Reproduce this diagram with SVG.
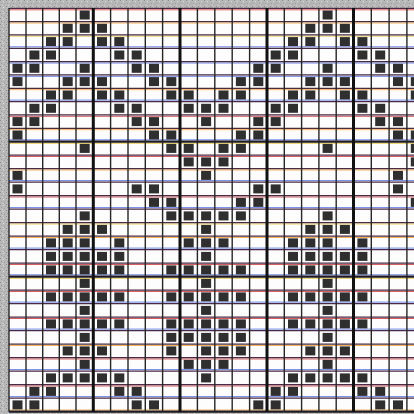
<svg xmlns="http://www.w3.org/2000/svg" xmlns:xlink="http://www.w3.org/1999/xlink" width="414" height="414" viewBox="0 0 414 414">
<style>
.v{stroke:#262626;stroke-width:1.4}
.vt{stroke:#111111;stroke-width:3}
.h{stroke:#4a2a44;stroke-width:1.2}
.ht{stroke:#1e1a22;stroke-width:2.4}
.fo{stroke:#f0a030;stroke-width:1;opacity:.8}
.fb{stroke:#4a6ae0;stroke-width:1;opacity:.8}
.fr{stroke:#d03838;stroke-width:1;opacity:.8}
.fy{stroke:#e8c840;stroke-width:1;opacity:.8}
.sq{fill:#2f2f2f}
</style>
<defs>
<pattern id="noise" width="6" height="6" patternUnits="userSpaceOnUse">
<rect width="6" height="6" fill="#b9b9b9"/>
<rect x="0" y="0" width="1" height="1" fill="#8e8e8e"/>
<rect x="3" y="1" width="1" height="1" fill="#d8d8d8"/>
<rect x="1" y="3" width="1" height="1" fill="#9a9a9a"/>
<rect x="4" y="4" width="1" height="1" fill="#a0a0a0"/>
<rect x="2" y="5" width="1" height="1" fill="#d0d0d0"/>
<rect x="5" y="2" width="1" height="1" fill="#a6a6a6"/>
</pattern>
<rect id="s" class="sq" width="10" height="9"/>
</defs>
<rect width="414" height="414" fill="url(#noise)"/>
<rect x="9" y="8" width="405" height="404" fill="#fdfdfd"/>

<g id="fringes">
<line class="fr" x1="9" y1="9.8" x2="414" y2="9.8"/>
<line class="fo" x1="9" y1="23" x2="414" y2="23"/>
<line class="fy" x1="9" y1="36.2" x2="414" y2="36.2"/>
<line class="fb" x1="9" y1="46.8" x2="414" y2="46.8"/>
<line class="fb" x1="9" y1="63" x2="414" y2="63"/>
<line class="fb" x1="9" y1="76.3" x2="414" y2="76.3"/>
<line class="fo" x1="9" y1="89.7" x2="414" y2="89.7"/>
<line class="fb" x1="9" y1="100.1" x2="414" y2="100.1"/>
<line class="fr" x1="9" y1="116.3" x2="414" y2="116.3"/>
<line class="fo" x1="9" y1="129.7" x2="414" y2="129.7"/>
<line class="fy" x1="9" y1="143.4" x2="414" y2="143.4"/>
<line class="fb" x1="9" y1="139.8" x2="414" y2="139.8"/>
<line class="fr" x1="9" y1="156.5" x2="414" y2="156.5"/>
<line class="fo" x1="9" y1="170" x2="414" y2="170"/>
<line class="fb" x1="9" y1="180.6" x2="414" y2="180.6"/>
<line class="fr" x1="9" y1="197" x2="414" y2="197"/>
<line class="fb" x1="9" y1="207.6" x2="414" y2="207.6"/>
<line class="fy" x1="9" y1="224" x2="414" y2="224"/>
<line class="fo" x1="9" y1="237.5" x2="414" y2="237.5"/>
<line class="fb" x1="9" y1="248.1" x2="414" y2="248.1"/>
<line class="fr" x1="9" y1="264.5" x2="414" y2="264.5"/>
<line class="fy" x1="9" y1="278.4" x2="414" y2="278.4"/>
<line class="fb" x1="9" y1="274.8" x2="414" y2="274.8"/>
<line class="fr" x1="9" y1="291.5" x2="414" y2="291.5"/>
<line class="fb" x1="9" y1="302.1" x2="414" y2="302.1"/>
<line class="fr" x1="9" y1="318.5" x2="414" y2="318.5"/>
<line class="fb" x1="9" y1="329.1" x2="414" y2="329.1"/>
<line class="fo" x1="9" y1="345.5" x2="414" y2="345.5"/>
<line class="fr" x1="9" y1="359" x2="414" y2="359"/>
<line class="fb" x1="9" y1="369.6" x2="414" y2="369.6"/>
<line class="fr" x1="9" y1="386" x2="414" y2="386"/>
<line class="fb" x1="9" y1="396.6" x2="414" y2="396.6"/>
<line class="fo" x1="9" y1="410" x2="414" y2="410"/>
</g>

<g id="hlines">
<line class="h" x1="9" y1="8.3" x2="414" y2="8.3"/>
<line class="h" x1="9" y1="21.6" x2="414" y2="21.6"/>
<line class="h" x1="9" y1="34.9" x2="414" y2="34.9"/>
<line class="h" x1="9" y1="48.3" x2="414" y2="48.3"/>
<line class="h" x1="9" y1="61.6" x2="414" y2="61.6"/>
<line class="h" x1="9" y1="74.9" x2="414" y2="74.9"/>
<line class="h" x1="9" y1="88.3" x2="414" y2="88.3"/>
<line class="h" x1="9" y1="101.6" x2="414" y2="101.6"/>
<line class="h" x1="9" y1="114.9" x2="414" y2="114.9"/>
<line class="h" x1="9" y1="128.3" x2="414" y2="128.3"/>
<line class="ht" x1="9" y1="141.6" x2="414" y2="141.6"/>
<line class="h" x1="9" y1="155.1" x2="414" y2="155.1"/>
<line class="h" x1="9" y1="168.6" x2="414" y2="168.6"/>
<line class="h" x1="9" y1="182.1" x2="414" y2="182.1"/>
<line class="h" x1="9" y1="195.6" x2="414" y2="195.6"/>
<line class="h" x1="9" y1="209.1" x2="414" y2="209.1"/>
<line class="h" x1="9" y1="222.6" x2="414" y2="222.6"/>
<line class="h" x1="9" y1="236.1" x2="414" y2="236.1"/>
<line class="h" x1="9" y1="249.6" x2="414" y2="249.6"/>
<line class="h" x1="9" y1="263.1" x2="414" y2="263.1"/>
<line class="ht" x1="9" y1="276.6" x2="414" y2="276.6"/>
<line class="h" x1="9" y1="290.1" x2="414" y2="290.1"/>
<line class="h" x1="9" y1="303.6" x2="414" y2="303.6"/>
<line class="h" x1="9" y1="317.1" x2="414" y2="317.1"/>
<line class="h" x1="9" y1="330.6" x2="414" y2="330.6"/>
<line class="h" x1="9" y1="344.1" x2="414" y2="344.1"/>
<line class="h" x1="9" y1="357.6" x2="414" y2="357.6"/>
<line class="h" x1="9" y1="371.1" x2="414" y2="371.1"/>
<line class="h" x1="9" y1="384.6" x2="414" y2="384.6"/>
<line class="h" x1="9" y1="398.1" x2="414" y2="398.1"/>
<line class="ht" x1="9" y1="411.6" x2="414" y2="411.6"/>
</g>

<g id="vlines">
<line class="v" x1="9" y1="8" x2="9" y2="412"/>
<line class="v" x1="26" y1="8" x2="26" y2="412"/>
<line class="v" x1="42.7" y1="8" x2="42.7" y2="412"/>
<line class="v" x1="59.3" y1="8" x2="59.3" y2="412"/>
<line class="v" x1="76" y1="8" x2="76" y2="412"/>
<line class="vt" x1="93.3" y1="8" x2="93.3" y2="412"/>
<line class="v" x1="110.6" y1="8" x2="110.6" y2="412"/>
<line class="v" x1="128" y1="8" x2="128" y2="412"/>
<line class="v" x1="145.3" y1="8" x2="145.3" y2="412"/>
<line class="v" x1="162.6" y1="8" x2="162.6" y2="412"/>
<line class="vt" x1="180" y1="8" x2="180" y2="412"/>
<line class="v" x1="197.4" y1="8" x2="197.4" y2="412"/>
<line class="v" x1="214.8" y1="8" x2="214.8" y2="412"/>
<line class="v" x1="232.2" y1="8" x2="232.2" y2="412"/>
<line class="v" x1="249.6" y1="8" x2="249.6" y2="412"/>
<line class="vt" x1="267" y1="8" x2="267" y2="412"/>
<line class="v" x1="284.3" y1="8" x2="284.3" y2="412"/>
<line class="v" x1="301.6" y1="8" x2="301.6" y2="412"/>
<line class="v" x1="318.9" y1="8" x2="318.9" y2="412"/>
<line class="v" x1="336.2" y1="8" x2="336.2" y2="412"/>
<line class="vt" x1="353.5" y1="8" x2="353.5" y2="412"/>
<line class="v" x1="371.3" y1="8" x2="371.3" y2="412"/>
<line class="v" x1="389.1" y1="8" x2="389.1" y2="412"/>
<line class="v" x1="406.9" y1="8" x2="406.9" y2="412"/>
</g>

<g id="cells">
<g id="r0" transform="translate(0,10.5)"><use href="#s" x="79.7"/><use href="#s" x="322.6"/></g>
<g id="r1" transform="translate(0,23.8)"><use href="#s" x="62.7"/><use href="#s" x="79.7"/><use href="#s" x="97"/><use href="#s" x="305.3"/><use href="#s" x="322.6"/><use href="#s" x="339.9"/></g>
<g id="r2" transform="translate(0,37.1)"><use href="#s" x="46"/><use href="#s" x="62.7"/><use href="#s" x="97"/><use href="#s" x="114.3"/><use href="#s" x="288"/><use href="#s" x="305.3"/><use href="#s" x="339.9"/><use href="#s" x="357.4"/></g>
<g id="r3" transform="translate(0,50.5)"><use href="#s" x="29.4"/><use href="#s" x="46"/><use href="#s" x="114.3"/><use href="#s" x="131.7"/><use href="#s" x="270.7"/><use href="#s" x="288"/><use href="#s" x="357.4"/><use href="#s" x="375.2"/></g>
<g id="r4" transform="translate(0,63.8)"><use href="#s" x="12.5"/><use href="#s" x="29.4"/><use href="#s" x="79.7"/><use href="#s" x="131.7"/><use href="#s" x="149"/><use href="#s" x="253.3"/><use href="#s" x="270.7"/><use href="#s" x="322.6"/><use href="#s" x="375.2"/><use href="#s" x="393"/></g>
<g id="r5" transform="translate(0,77.1)"><use href="#s" x="12.5"/><use href="#s" x="62.7"/><use href="#s" x="79.7"/><use href="#s" x="97"/><use href="#s" x="149"/><use href="#s" x="166.3"/><use href="#s" x="235.9"/><use href="#s" x="253.3"/><use href="#s" x="305.3"/><use href="#s" x="322.6"/><use href="#s" x="339.9"/><use href="#s" x="393"/><use href="#s" x="410.8"/></g>
<g id="r6" transform="translate(0,90.5)"><use href="#s" x="46"/><use href="#s" x="62.7"/><use href="#s" x="97"/><use href="#s" x="114.3"/><use href="#s" x="166.3"/><use href="#s" x="183.7"/><use href="#s" x="218.5"/><use href="#s" x="235.9"/><use href="#s" x="288"/><use href="#s" x="305.3"/><use href="#s" x="339.9"/><use href="#s" x="357.4"/><use href="#s" x="410.8"/></g>
<g id="r7" transform="translate(0,103.8)"><use href="#s" x="29.4"/><use href="#s" x="46"/><use href="#s" x="114.3"/><use href="#s" x="131.7"/><use href="#s" x="183.7"/><use href="#s" x="201.1"/><use href="#s" x="218.5"/><use href="#s" x="270.7"/><use href="#s" x="288"/><use href="#s" x="357.4"/><use href="#s" x="375.2"/></g>
<g id="r8" transform="translate(0,117.1)"><use href="#s" x="12.5"/><use href="#s" x="29.4"/><use href="#s" x="131.7"/><use href="#s" x="149"/><use href="#s" x="201.1"/><use href="#s" x="253.3"/><use href="#s" x="270.7"/><use href="#s" x="375.2"/><use href="#s" x="393"/></g>
<g id="r9" transform="translate(0,130.5)"><use href="#s" x="12.5"/><use href="#s" x="149"/><use href="#s" x="166.3"/><use href="#s" x="235.9"/><use href="#s" x="253.3"/><use href="#s" x="393"/><use href="#s" x="410.8"/></g>
<g id="r10" transform="translate(0,143.9)"><use href="#s" x="79.7"/><use href="#s" x="166.3"/><use href="#s" x="183.7"/><use href="#s" x="218.5"/><use href="#s" x="235.9"/><use href="#s" x="322.6"/><use href="#s" x="410.8"/></g>
<g id="r11" transform="translate(0,157.4)"><use href="#s" x="183.7"/><use href="#s" x="201.1"/><use href="#s" x="218.5"/><use href="#s" x="410.8"/></g>
<g id="r12" transform="translate(0,170.9)"><use href="#s" x="12.5"/><use href="#s" x="201.1"/><use href="#s" x="393"/></g>
<g id="r13" transform="translate(0,184.4)"><use href="#s" x="12.5"/><use href="#s" x="131.7"/><use href="#s" x="149"/><use href="#s" x="253.3"/><use href="#s" x="270.7"/><use href="#s" x="393"/></g>
<g id="r14" transform="translate(0,197.9)"><use href="#s" x="149"/><use href="#s" x="166.3"/><use href="#s" x="235.9"/><use href="#s" x="253.3"/><use href="#s" x="410.8"/></g>
<g id="r15" transform="translate(0,211.4)"><use href="#s" x="79.7"/><use href="#s" x="166.3"/><use href="#s" x="183.7"/><use href="#s" x="201.1"/><use href="#s" x="218.5"/><use href="#s" x="235.9"/><use href="#s" x="322.6"/></g>
<g id="r16" transform="translate(0,224.9)"><use href="#s" x="62.7"/><use href="#s" x="79.7"/><use href="#s" x="97"/><use href="#s" x="201.1"/><use href="#s" x="305.3"/><use href="#s" x="322.6"/><use href="#s" x="339.9"/></g>
<g id="r17" transform="translate(0,238.4)"><use href="#s" x="46"/><use href="#s" x="62.7"/><use href="#s" x="79.7"/><use href="#s" x="114.3"/><use href="#s" x="183.7"/><use href="#s" x="201.1"/><use href="#s" x="218.5"/><use href="#s" x="288"/><use href="#s" x="305.3"/><use href="#s" x="322.6"/><use href="#s" x="357.4"/></g>
<g id="r18" transform="translate(0,251.9)"><use href="#s" x="46"/><use href="#s" x="62.7"/><use href="#s" x="79.7"/><use href="#s" x="97"/><use href="#s" x="114.3"/><use href="#s" x="201.1"/><use href="#s" x="288"/><use href="#s" x="305.3"/><use href="#s" x="322.6"/><use href="#s" x="339.9"/><use href="#s" x="357.4"/></g>
<g id="r19" transform="translate(0,265.4)"><use href="#s" x="46"/><use href="#s" x="62.7"/><use href="#s" x="79.7"/><use href="#s" x="97"/><use href="#s" x="114.3"/><use href="#s" x="166.3"/><use href="#s" x="183.7"/><use href="#s" x="201.1"/><use href="#s" x="218.5"/><use href="#s" x="235.9"/><use href="#s" x="288"/><use href="#s" x="305.3"/><use href="#s" x="322.6"/><use href="#s" x="339.9"/><use href="#s" x="357.4"/></g>
<g id="r20" transform="translate(0,278.9)"><use href="#s" x="79.7"/><use href="#s" x="201.1"/><use href="#s" x="322.6"/></g>
<g id="r21" transform="translate(0,292.4)"><use href="#s" x="46"/><use href="#s" x="62.7"/><use href="#s" x="79.7"/><use href="#s" x="97"/><use href="#s" x="114.3"/><use href="#s" x="166.3"/><use href="#s" x="183.7"/><use href="#s" x="201.1"/><use href="#s" x="218.5"/><use href="#s" x="235.9"/><use href="#s" x="288"/><use href="#s" x="305.3"/><use href="#s" x="322.6"/><use href="#s" x="339.9"/><use href="#s" x="357.4"/></g>
<g id="r22" transform="translate(0,305.9)"><use href="#s" x="79.7"/><use href="#s" x="201.1"/><use href="#s" x="322.6"/></g>
<g id="r23" transform="translate(0,319.4)"><use href="#s" x="46"/><use href="#s" x="62.7"/><use href="#s" x="79.7"/><use href="#s" x="97"/><use href="#s" x="114.3"/><use href="#s" x="166.3"/><use href="#s" x="183.7"/><use href="#s" x="201.1"/><use href="#s" x="218.5"/><use href="#s" x="235.9"/><use href="#s" x="288"/><use href="#s" x="305.3"/><use href="#s" x="322.6"/><use href="#s" x="339.9"/><use href="#s" x="357.4"/></g>
<g id="r24" transform="translate(0,332.9)"><use href="#s" x="79.7"/><use href="#s" x="166.3"/><use href="#s" x="183.7"/><use href="#s" x="201.1"/><use href="#s" x="218.5"/><use href="#s" x="235.9"/><use href="#s" x="322.6"/></g>
<g id="r25" transform="translate(0,346.4)"><use href="#s" x="62.7"/><use href="#s" x="79.7"/><use href="#s" x="97"/><use href="#s" x="166.3"/><use href="#s" x="201.1"/><use href="#s" x="218.5"/><use href="#s" x="235.9"/><use href="#s" x="305.3"/><use href="#s" x="322.6"/><use href="#s" x="339.9"/></g>
<g id="r26" transform="translate(0,359.9)"><use href="#s" x="79.7"/><use href="#s" x="183.7"/><use href="#s" x="201.1"/><use href="#s" x="218.5"/><use href="#s" x="322.6"/></g>
<g id="r27" transform="translate(0,373.4)"><use href="#s" x="46"/><use href="#s" x="62.7"/><use href="#s" x="79.7"/><use href="#s" x="97"/><use href="#s" x="114.3"/><use href="#s" x="201.1"/><use href="#s" x="288"/><use href="#s" x="305.3"/><use href="#s" x="322.6"/><use href="#s" x="339.9"/><use href="#s" x="357.4"/></g>
<g id="r28" transform="translate(0,386.9)"><use href="#s" x="29.4"/><use href="#s" x="46"/><use href="#s" x="114.3"/><use href="#s" x="131.7"/><use href="#s" x="270.7"/><use href="#s" x="288"/><use href="#s" x="357.4"/><use href="#s" x="375.2"/></g>
<g id="r29" transform="translate(0,400.4)"><use href="#s" x="12.5"/><use href="#s" x="29.4"/><use href="#s" x="131.7"/><use href="#s" x="149"/><use href="#s" x="253.3"/><use href="#s" x="270.7"/><use href="#s" x="375.2"/><use href="#s" x="393"/></g>
</g>
</svg>
